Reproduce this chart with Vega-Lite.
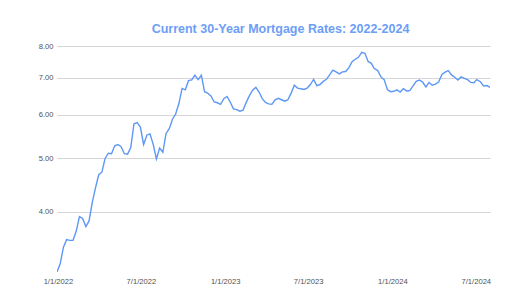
{
  "$schema": "https://vega.github.io/schema/vega-lite/v6.json",
  "width": 433,
  "height": 226,
  "autosize": {"type": "none"},
  "padding": {"left": 57, "top": 46, "right": 22, "bottom": 27},
  "background": "white",
  "title": {
    "text": "Current 30-Year Mortgage Rates: 2022-2024",
    "font": "Liberation Sans",
    "fontSize": 12.5,
    "fontWeight": "bold",
    "color": "#6d9ef6",
    "anchor": "middle",
    "dx": 7,
    "offset": 7
  },
  "config": {"view": {"stroke": null}},
  "data": {
    "values": [
      {"date": "2021-12-30", "rate": 3.11},
      {"date": "2022-01-06", "rate": 3.22},
      {"date": "2022-01-13", "rate": 3.45},
      {"date": "2022-01-20", "rate": 3.56},
      {"date": "2022-01-27", "rate": 3.55},
      {"date": "2022-02-03", "rate": 3.55},
      {"date": "2022-02-10", "rate": 3.69},
      {"date": "2022-02-17", "rate": 3.92},
      {"date": "2022-02-24", "rate": 3.89},
      {"date": "2022-03-03", "rate": 3.76},
      {"date": "2022-03-10", "rate": 3.85},
      {"date": "2022-03-17", "rate": 4.16},
      {"date": "2022-03-24", "rate": 4.42},
      {"date": "2022-03-31", "rate": 4.67},
      {"date": "2022-04-07", "rate": 4.72},
      {"date": "2022-04-14", "rate": 5.00},
      {"date": "2022-04-21", "rate": 5.11},
      {"date": "2022-04-28", "rate": 5.10},
      {"date": "2022-05-05", "rate": 5.27},
      {"date": "2022-05-12", "rate": 5.30},
      {"date": "2022-05-19", "rate": 5.25},
      {"date": "2022-05-26", "rate": 5.10},
      {"date": "2022-06-02", "rate": 5.09},
      {"date": "2022-06-09", "rate": 5.23},
      {"date": "2022-06-16", "rate": 5.78},
      {"date": "2022-06-23", "rate": 5.81},
      {"date": "2022-06-30", "rate": 5.70},
      {"date": "2022-07-07", "rate": 5.30},
      {"date": "2022-07-14", "rate": 5.51},
      {"date": "2022-07-21", "rate": 5.54},
      {"date": "2022-07-28", "rate": 5.30},
      {"date": "2022-08-04", "rate": 4.99},
      {"date": "2022-08-11", "rate": 5.22},
      {"date": "2022-08-18", "rate": 5.13},
      {"date": "2022-08-25", "rate": 5.55},
      {"date": "2022-09-01", "rate": 5.66},
      {"date": "2022-09-08", "rate": 5.89},
      {"date": "2022-09-15", "rate": 6.02},
      {"date": "2022-09-22", "rate": 6.29},
      {"date": "2022-09-29", "rate": 6.70},
      {"date": "2022-10-06", "rate": 6.66},
      {"date": "2022-10-13", "rate": 6.92},
      {"date": "2022-10-20", "rate": 6.94},
      {"date": "2022-10-27", "rate": 7.08},
      {"date": "2022-11-03", "rate": 6.95},
      {"date": "2022-11-10", "rate": 7.08},
      {"date": "2022-11-17", "rate": 6.61},
      {"date": "2022-11-23", "rate": 6.58},
      {"date": "2022-12-01", "rate": 6.49},
      {"date": "2022-12-08", "rate": 6.33},
      {"date": "2022-12-15", "rate": 6.31},
      {"date": "2022-12-22", "rate": 6.27},
      {"date": "2022-12-29", "rate": 6.42},
      {"date": "2023-01-05", "rate": 6.48},
      {"date": "2023-01-12", "rate": 6.33},
      {"date": "2023-01-19", "rate": 6.15},
      {"date": "2023-01-26", "rate": 6.13},
      {"date": "2023-02-02", "rate": 6.09},
      {"date": "2023-02-09", "rate": 6.12},
      {"date": "2023-02-16", "rate": 6.32},
      {"date": "2023-02-23", "rate": 6.50},
      {"date": "2023-03-02", "rate": 6.65},
      {"date": "2023-03-09", "rate": 6.73},
      {"date": "2023-03-16", "rate": 6.60},
      {"date": "2023-03-23", "rate": 6.42},
      {"date": "2023-03-30", "rate": 6.32},
      {"date": "2023-04-06", "rate": 6.28},
      {"date": "2023-04-13", "rate": 6.27},
      {"date": "2023-04-20", "rate": 6.39},
      {"date": "2023-04-27", "rate": 6.43},
      {"date": "2023-05-04", "rate": 6.39},
      {"date": "2023-05-11", "rate": 6.35},
      {"date": "2023-05-18", "rate": 6.39},
      {"date": "2023-05-25", "rate": 6.57},
      {"date": "2023-06-01", "rate": 6.79},
      {"date": "2023-06-08", "rate": 6.71},
      {"date": "2023-06-15", "rate": 6.69},
      {"date": "2023-06-22", "rate": 6.67},
      {"date": "2023-06-29", "rate": 6.71},
      {"date": "2023-07-06", "rate": 6.81},
      {"date": "2023-07-13", "rate": 6.96},
      {"date": "2023-07-20", "rate": 6.78},
      {"date": "2023-07-27", "rate": 6.81},
      {"date": "2023-08-03", "rate": 6.90},
      {"date": "2023-08-10", "rate": 6.96},
      {"date": "2023-08-17", "rate": 7.09},
      {"date": "2023-08-24", "rate": 7.23},
      {"date": "2023-08-31", "rate": 7.18},
      {"date": "2023-09-07", "rate": 7.12},
      {"date": "2023-09-14", "rate": 7.18},
      {"date": "2023-09-21", "rate": 7.19},
      {"date": "2023-09-28", "rate": 7.31},
      {"date": "2023-10-05", "rate": 7.49},
      {"date": "2023-10-12", "rate": 7.57},
      {"date": "2023-10-19", "rate": 7.63},
      {"date": "2023-10-26", "rate": 7.79},
      {"date": "2023-11-02", "rate": 7.76},
      {"date": "2023-11-09", "rate": 7.50},
      {"date": "2023-11-16", "rate": 7.44},
      {"date": "2023-11-22", "rate": 7.29},
      {"date": "2023-11-30", "rate": 7.22},
      {"date": "2023-12-07", "rate": 7.03},
      {"date": "2023-12-14", "rate": 6.95},
      {"date": "2023-12-21", "rate": 6.67},
      {"date": "2023-12-28", "rate": 6.61},
      {"date": "2024-01-04", "rate": 6.62},
      {"date": "2024-01-11", "rate": 6.66},
      {"date": "2024-01-18", "rate": 6.60},
      {"date": "2024-01-25", "rate": 6.69},
      {"date": "2024-02-01", "rate": 6.63},
      {"date": "2024-02-08", "rate": 6.64},
      {"date": "2024-02-15", "rate": 6.77},
      {"date": "2024-02-22", "rate": 6.90},
      {"date": "2024-02-29", "rate": 6.94},
      {"date": "2024-03-07", "rate": 6.88},
      {"date": "2024-03-14", "rate": 6.74},
      {"date": "2024-03-21", "rate": 6.87},
      {"date": "2024-03-28", "rate": 6.79},
      {"date": "2024-04-04", "rate": 6.82},
      {"date": "2024-04-11", "rate": 6.88},
      {"date": "2024-04-18", "rate": 7.10},
      {"date": "2024-04-25", "rate": 7.17},
      {"date": "2024-05-02", "rate": 7.22},
      {"date": "2024-05-09", "rate": 7.09},
      {"date": "2024-05-16", "rate": 7.02},
      {"date": "2024-05-23", "rate": 6.94},
      {"date": "2024-05-30", "rate": 7.03},
      {"date": "2024-06-06", "rate": 6.99},
      {"date": "2024-06-13", "rate": 6.95},
      {"date": "2024-06-20", "rate": 6.87},
      {"date": "2024-06-27", "rate": 6.86},
      {"date": "2024-07-03", "rate": 6.95},
      {"date": "2024-07-11", "rate": 6.89},
      {"date": "2024-07-18", "rate": 6.77},
      {"date": "2024-07-25", "rate": 6.78},
      {"date": "2024-08-01", "rate": 6.73}
    ]
  },
  "mark": {"type": "line", "color": "#5e97f6", "strokeWidth": 1.4, "clip": true},
  "encoding": {
    "x": {
      "field": "date",
      "type": "temporal",
      "scale": {"type": "utc", "domain": [{"year": 2021, "month": 12, "date": 30, "utc": true}, {"year": 2024, "month": 8, "date": 1, "utc": true}]},
      "axis": {
        "title": null,
        "values": [
          {"year": 2022, "month": 1, "date": 1, "utc": true},
          {"year": 2022, "month": 7, "date": 1, "utc": true},
          {"year": 2023, "month": 1, "date": 1, "utc": true},
          {"year": 2023, "month": 7, "date": 1, "utc": true},
          {"year": 2024, "month": 1, "date": 1, "utc": true},
          {"year": 2024, "month": 7, "date": 1, "utc": true}
        ],
        "labelExpr": "utcFormat(datum.value, '%-m/%-d/%Y')",
        "grid": false,
        "domain": false,
        "ticks": false,
        "labelPadding": 5,
        "labelFont": "Liberation Sans",
        "labelFontSize": 7.6,
        "labelColor": "#505050",
        "labelFlush": false,
        "labelOverlap": false
      }
    },
    "y": {
      "field": "rate",
      "type": "quantitative",
      "scale": {"type": "log", "domain": [3.11, 8], "nice": false, "zero": false},
      "axis": {
        "title": null,
        "values": [4, 5, 6, 7, 8],
        "format": ".2f",
        "grid": true,
        "gridColor": "#d6d6d6",
        "gridWidth": 1,
        "domain": false,
        "ticks": false,
        "labelPadding": 4,
        "labelFont": "Liberation Sans",
        "labelFontSize": 7.6,
        "labelColor": "#505050"
      }
    }
  }
}
